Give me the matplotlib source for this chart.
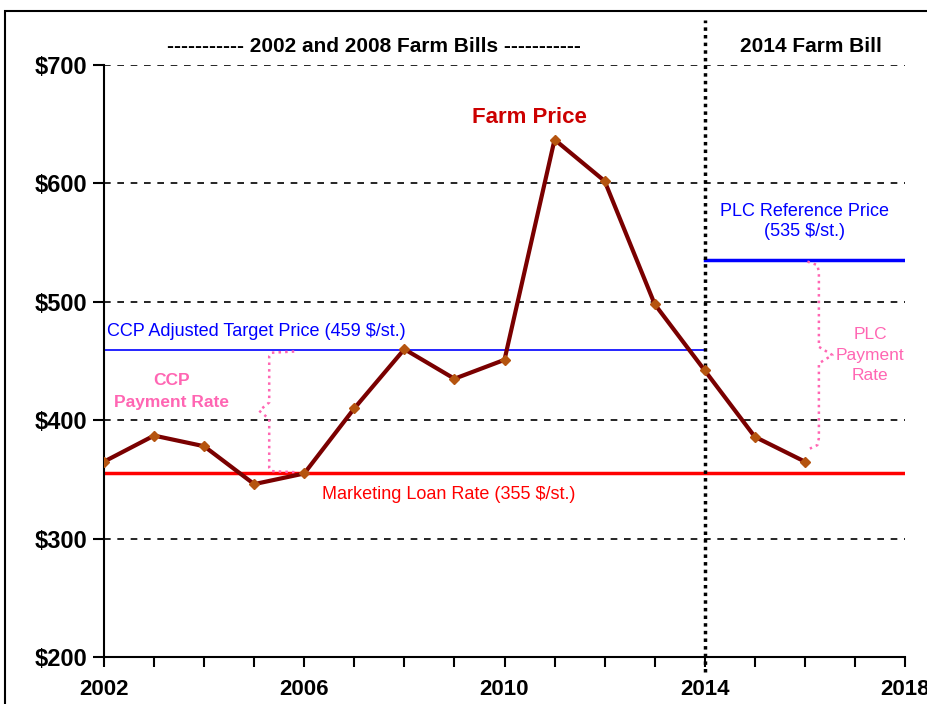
import matplotlib.pyplot as plt
from matplotlib.patches import Rectangle

# Farm price, $/short ton
years = [2002, 2003, 2004, 2005, 2006, 2007, 2008, 2009, 2010,
         2011, 2012, 2013, 2014, 2015, 2016]
farm_price = [365, 387, 378, 346, 355, 410, 460, 435, 451,
              637, 602, 498, 442, 386, 365]

loan_rate = 355
ccp_target = 459
plc_ref = 535

x_ticks = [2002, 2006, 2010, 2014, 2018]
y_ticks = [200, 300, 400, 500, 600, 700]
y_labels = ['$200', '$300', '$400', '$500', '$600', '$700']

plt.rcParams['font.family'] = ['Liberation Sans', 'DejaVu Sans']

fig = plt.figure(figsize=(9.28, 7.04), dpi=100)
ax = fig.add_axes([104 / 928, 1 - 657 / 704, 801 / 928, 592 / 704])

# outer frame
fig.patches.append(Rectangle((5 / 928, -0.02), 1.0, 1 - 11 / 704 + 0.02,
                             transform=fig.transFigure, fill=False,
                             edgecolor='black', linewidth=1.5))

ax.set_xlim(2002, 2018)
ax.set_ylim(200, 700)

for y in y_ticks[1:]:
    ax.plot([2002, 2018], [y, y], color='black', linestyle=(0, (4, 4)),
            linewidth=1.2, zorder=1)

# policy lines
ax.plot([2002, 2014], [ccp_target, ccp_target], color='#0000ff', linewidth=1.2, zorder=2)
ax.plot([2002, 2018], [loan_rate, loan_rate], color='#ff0000', linewidth=2.5, zorder=2)
ax.plot([2014, 2018], [plc_ref, plc_ref], color='#0000ff', linewidth=2.5, zorder=2)

# vertical divider
ax.plot([2014, 2014], [187, 738], color='black', linestyle=(0, (1, 1.2)),
        linewidth=2.5, clip_on=False, zorder=3)

# farm price
ax.plot(years, farm_price, color='#7a0000', linewidth=3, marker='D',
        markersize=5, markerfacecolor='#b5540f', markeredgecolor='#b5540f', zorder=4)

# braces
pink = '#ff66b3'
ax.plot([2005.8, 2005.35, 2005.3, 2005.3, 2005.1, 2005.3, 2005.3, 2005.35, 2005.85],
        [458, 457, 454, 415, 408, 401, 360, 357, 356],
        color=pink, linestyle=':', linewidth=1.8, zorder=3)
ax.plot([2016.05, 2016.25, 2016.28, 2016.28, 2016.55, 2016.28, 2016.28, 2016.25, 2016.1],
        [534, 531, 525, 462, 455, 448, 385, 379, 376],
        color=pink, linestyle=':', linewidth=1.8, zorder=3)

# ticks
ax.set_xticks(x_ticks)
ax.set_xticks(range(2002, 2019), minor=True)
ax.set_yticks(y_ticks)
ax.set_yticklabels(y_labels)
ax.tick_params(axis='x', which='both', direction='out', length=7, width=1.5, pad=9)
ax.tick_params(axis='y', direction='out', length=8, width=1.5, pad=4)
for lab in ax.get_xticklabels():
    lab.set_fontweight('bold')
    lab.set_fontsize(16)
for lab in ax.get_yticklabels():
    lab.set_fontweight('bold')
    lab.set_fontsize(17)

for s in ['top', 'right']:
    ax.spines[s].set_visible(False)
ax.spines['left'].set_linewidth(1.5)
ax.spines['bottom'].set_linewidth(1.5)

# annotations
ax.text(2007.4, 716, '----------- 2002 and 2008 Farm Bills -----------', ha='center', va='center',
        fontsize=15, fontweight='bold', clip_on=False)
ax.text(2016.13, 716, '2014 Farm Bill', ha='center', va='center',
        fontsize=15, fontweight='bold', clip_on=False)
ax.text(2010.5, 656, 'Farm Price', ha='center', va='center', color='#cc0000',
        fontsize=16, fontweight='bold')
ax.text(2016.0, 552, 'PLC Reference Price\n(535 $/st.)', ha='center', va='bottom',
        color='#0000ff', fontsize=13, linespacing=1.25)
ax.text(2017.3, 455, 'PLC\nPayment\nRate', ha='center', va='center',
        color=pink, fontsize=12.5, linespacing=1.45)
ax.text(2002.05, 468, 'CCP Adjusted Target Price (459 $/st.)', ha='left', va='bottom',
        color='#0000ff', fontsize=13)
ax.text(2003.35, 424, 'CCP\nPayment Rate', ha='center', va='center',
        color=pink, fontsize=12.5, fontweight='bold', linespacing=1.55)
ax.text(2008.88, 337, 'Marketing Loan Rate (355 $/st.)', ha='center', va='center',
        color='#ff0000', fontsize=13)

fig.savefig('out.png', dpi=100)
